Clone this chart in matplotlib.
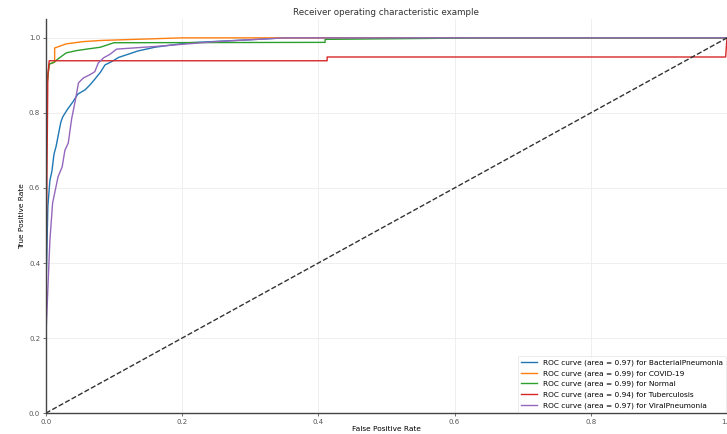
import matplotlib
matplotlib.use('Agg')
import matplotlib.pyplot as plt

# ROC points (false positive rate, true positive rate)
bact_fpr = [0.0, 0.0, 0.003, 0.006, 0.009, 0.012, 0.015, 0.022, 0.025, 0.032, 0.04, 0.047, 0.058, 0.065, 0.072, 0.08, 0.087, 0.097, 0.107, 0.122, 0.135, 0.16, 0.21, 0.3, 0.35, 1.0]
bact_tpr = [0.0, 0.3, 0.55, 0.62, 0.645, 0.69, 0.71, 0.775, 0.79, 0.81, 0.83, 0.85, 0.862, 0.875, 0.89, 0.908, 0.928, 0.937, 0.948, 0.957, 0.965, 0.975, 0.987, 0.995, 1.0, 1.0]
covid_fpr = [0.0, 0.0, 0.002, 0.005, 0.013, 0.013, 0.03, 0.055, 0.08, 0.13, 0.2, 1.0]
covid_tpr = [0.0, 0.6, 0.88, 0.93, 0.935, 0.973, 0.984, 0.99, 0.993, 0.996, 1.0, 1.0]
normal_fpr = [0.0, 0.0, 0.002, 0.005, 0.012, 0.018, 0.03, 0.045, 0.06, 0.08, 0.1, 0.41, 0.41, 0.65, 1.0]
normal_tpr = [0.0, 0.6, 0.88, 0.93, 0.935, 0.944, 0.96, 0.966, 0.97, 0.975, 0.987, 0.988, 0.996, 1.0, 1.0]
tb_fpr = [0.0, 0.0, 0.001, 0.003, 0.005, 0.413, 0.413, 0.998, 1.0]
tb_tpr = [0.0, 0.1, 0.5, 0.9, 0.939, 0.939, 0.949, 0.949, 1.0]
viral_fpr = [0.0, 0.0, 0.006, 0.01, 0.018, 0.024, 0.028, 0.033, 0.038, 0.043, 0.048, 0.055, 0.065, 0.072, 0.077, 0.085, 0.094, 0.104, 0.16, 0.25, 0.35, 1.0]
viral_tpr = [0.0, 0.2, 0.46, 0.56, 0.63, 0.656, 0.7, 0.72, 0.785, 0.83, 0.88, 0.893, 0.902, 0.91, 0.933, 0.947, 0.956, 0.97, 0.977, 0.99, 1.0, 1.0]

class_names = ['BacterialPneumonia', 'COVID-19', 'Normal', 'Tuberculosis', 'ViralPneumonia']
auc_values = [0.97, 0.99, 0.99, 0.94, 0.97]
colors = ['tab:blue', 'tab:orange', 'tab:green', 'tab:red', 'tab:purple']

curves = [(bact_fpr, bact_tpr), (covid_fpr, covid_tpr), (normal_fpr, normal_tpr),
          (tb_fpr, tb_tpr), (viral_fpr, viral_tpr)]

fig = plt.figure(figsize=(7.27, 4.34), dpi=100)
ax = fig.add_axes([0.063, 0.048, 0.937, 0.908])

for (fpr, tpr), name, auc, c in zip(curves, class_names, auc_values, colors):
    ax.plot(fpr, tpr, color=c, lw=1.0,
            label='ROC curve (area = %0.2f) for %s' % (auc, name))

ax.plot([0, 1], [0, 1], 'k--', lw=1.0, color='#333333')
ax.set_xlim(0.0, 1.0)
ax.set_ylim(0.0, 1.05)
ax.set_xticks([0.0, 0.2, 0.4, 0.6, 0.8, 1.0])
ax.set_yticks([0.0, 0.2, 0.4, 0.6, 0.8, 1.0])
ax.grid(True, color='#ececec', lw=0.6)
ax.set_axisbelow(True)
for s in ['top', 'right']:
    ax.spines[s].set_visible(False)
for s in ['left', 'bottom']:
    ax.spines[s].set_color('#444444')
    ax.spines[s].set_linewidth(1.0)
ax.tick_params(labelsize=5, colors='#555555', length=2, width=0.6, pad=2)
ax.set_xlabel('False Positive Rate', fontsize=5.3, labelpad=1)
ax.set_ylabel('True Positive Rate', fontsize=5.3, labelpad=3)
ax.set_title('Receiver operating characteristic example', fontsize=6.3, pad=3, color='#333333')
leg = ax.legend(loc='lower right', fontsize=5.3, frameon=True, handlelength=2.2,
                labelspacing=0.55, borderaxespad=0.2)
leg.get_frame().set_edgecolor('#dddddd')
leg.get_frame().set_linewidth(0.5)

fig.savefig('out.png', dpi=100)
